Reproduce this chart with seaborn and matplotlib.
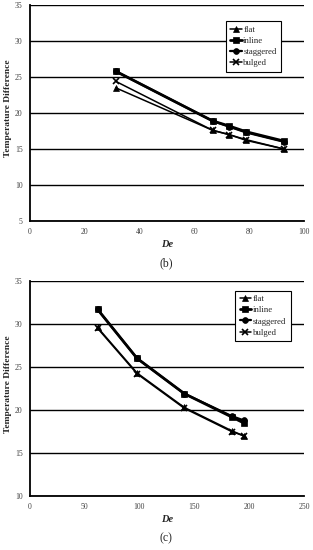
import matplotlib
matplotlib.use("Agg")
import matplotlib.pyplot as plt
import seaborn as sns
import pandas as pd

sns.set_theme(style="white")
plt.rcParams['font.family'] = ['Liberation Serif', 'DejaVu Serif']

series = ["flat", "inline", "staggered", "bulged"]
markers = {"flat": "^", "inline": "s", "staggered": "o", "bulged": "x"}
widths = {"flat": 1.1, "inline": 2.0, "staggered": 1.6, "bulged": 1.1}

# panel (b)
de_b = [31.4, 66.7, 72.7, 78.9, 92.7]
flat_b = [23.5, 17.6, 17.0, 16.3, 15.0]
inline_b = [25.8, 18.9, 18.2, 17.4, 16.1]
staggered_b = [25.8, 18.9, 18.1, 17.3, 16.0]
bulged_b = [24.4, 17.6, 17.0, 16.2, 15.0]

# panel (c)
de_c = [62, 98, 141, 184, 195]
flat_c = [29.6, 24.3, 20.3, 17.6, 17.0]
inline_c = [31.7, 26.0, 21.9, 19.2, 18.5]
staggered_c = [31.7, 26.0, 21.9, 19.3, 18.8]
bulged_c = [29.5, 24.2, 20.2, 17.5, 17.0]

W, H = 313, 550
fig = plt.figure(figsize=(W / 100, H / 100), dpi=100)


def make_df(x, vals):
    rows = []
    for name, ys in zip(series, vals):
        for xi, yi in zip(x, ys):
            rows.append({"De": xi, "T": yi, "series": name})
    return pd.DataFrame(rows)


def panel(rect, df, xlim, xticks, ylim, yticks, legend_anchor):
    ax = fig.add_axes(rect)
    for name in series:
        sub = df[df.series == name]
        sns.lineplot(data=sub, x="De", y="T", ax=ax, color="black",
                     marker=markers[name], markersize=4.2 if name != "bulged" else 5,
                     markeredgewidth=1.2 if name == "bulged" else 0.5,
                     markeredgecolor="black",
                     linewidth=widths[name], label=name, sort=False, zorder=3)
    ax.set_xlim(*xlim)
    ax.set_ylim(*ylim)
    ax.set_xticks(xticks)
    ax.set_yticks(yticks)
    ax.tick_params(axis="both", length=0, labelsize=5.6, labelcolor="#444444", pad=5)
    for s in ["top", "right"]:
        ax.spines[s].set_visible(False)
    for s in ["left", "bottom"]:
        ax.spines[s].set_color("black")
        ax.spines[s].set_linewidth(1.3)
    ax.yaxis.grid(True, color="black", linewidth=1.0)
    ax.set_axisbelow(True)
    ax.set_xlabel("De", fontsize=7.5, fontweight="bold", fontstyle="italic", labelpad=3)
    ax.set_ylabel("Temperature Difference", fontsize=6.8, fontweight="bold",
                  va="center", ha="center")
    ax.yaxis.set_label_coords(-0.078, 0.52)
    leg = ax.legend(loc="upper left", bbox_to_anchor=legend_anchor, fontsize=6.3,
                    frameon=True, fancybox=False, edgecolor="black", framealpha=1,
                    handlelength=1.3, handletextpad=0.2, borderpad=0.5,
                    labelspacing=0.35, borderaxespad=0)
    leg.get_frame().set_linewidth(0.8)
    return ax


def frac(x0, y0, x1, y1):
    return [x0 / W, 1 - y1 / H, (x1 - x0) / W, (y1 - y0) / H]


df_b = make_df(de_b, [flat_b, inline_b, staggered_b, bulged_b])
df_c = make_df(de_c, [flat_c, inline_c, staggered_c, bulged_c])

ax1 = panel(frac(29.5, 5, 304, 221), df_b, (0, 100), range(0, 101, 20),
            (5, 35), range(5, 36, 5), (0.715, 0.925))
ax2 = panel(frac(29.5, 281, 304, 496), df_c, (0, 250), range(0, 251, 50),
            (10, 35), range(10, 36, 5), (0.75, 0.955))

fig.text(166 / W, 1 - 263 / H, "(b)", ha="center", va="center", fontsize=8.5)
fig.text(166 / W, 1 - 538 / H, "(c)", ha="center", va="center", fontsize=8.5)

fig.savefig("out.png", dpi=100)
